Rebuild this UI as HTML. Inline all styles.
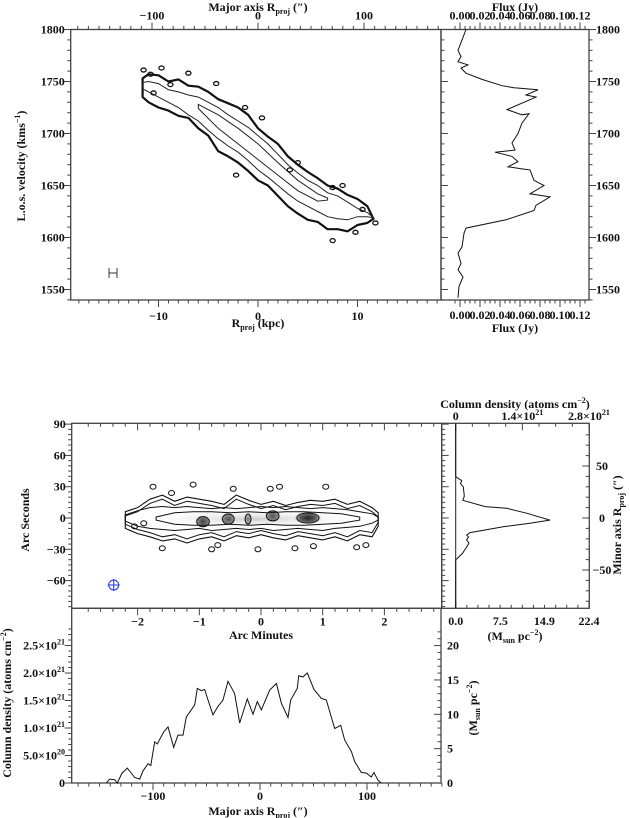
<!DOCTYPE html>
<html><head><meta charset="utf-8"><style>
html,body{margin:0;padding:0;background:#fff}
svg{display:block}
text{font-family:"Liberation Serif",serif;font-weight:bold;font-size:12px;fill:#111}
</style></head><body>
<svg id="fig" width="630" height="818" viewBox="0 0 630 818" xmlns="http://www.w3.org/2000/svg">
<defs>
<radialGradient id="g1"><stop offset="0" stop-color="#222"/><stop offset="0.6" stop-color="#666"/><stop offset="1" stop-color="#fff" stop-opacity="0"/></radialGradient>
<radialGradient id="g2"><stop offset="0" stop-color="#ccc"/><stop offset="1" stop-color="#fff" stop-opacity="0"/></radialGradient>
</defs>
<g id="layer"></g>
</svg>
<script>
// ---------- data ----------
const specVel = [1800,1790,1780,1774,1769,1766,1763,1758,1752,1746,1744,1742,1737,1735,1723,1718,1719,1710,1700,1691,1684,1682,1678,1673,1668,1666,1665,1655,1650,1642,1639,1631,1626,1617,1609,1604,1591,1585,1575,1569,1562,1553,1542];
const specFlux = [0.006,0.002,-0.002,0.001,-0.002,0.008,0.001,0.006,0.022,0.042,0.054,0.078,0.066,0.076,0.047,0.062,0.069,0.062,0.058,0.052,0.055,0.035,0.052,0.058,0.048,0.062,0.070,0.074,0.084,0.070,0.090,0.076,0.074,0.046,0.006,0.004,0.002,-0.002,0.001,-0.002,0.003,-0.001,-0.002];
const pvK = [-11.6,-11,-10,-9,-8,-7,-6,-5,-4,-3,-2,-1,0,1,2,3,4,5,6,7,8,9,10,11,11.6];
const pvOutHi = [1753,1757,1756,1750,1752,1746,1745,1740,1733,1729,1725,1718,1705,1697,1690,1678,1670,1663,1657,1650,1647,1641,1637,1630,1618];
const pvOutLo = [1735,1730,1725,1722,1717,1715,1705,1698,1683,1678,1672,1664,1655,1650,1640,1630,1623,1617,1615,1608,1608,1606,1612,1614,1618];
const pvMidHi = [1749,1750,1748,1742,1740,1737,1735,1730,1725,1718,1712,1706,1698,1690,1680,1670,1662,1655,1650,1643,1640,1634,1628,1624,1619];
const pvMidLo = [1743,1740,1735,1730,1725,1718,1712,1703,1695,1688,1682,1674,1665,1658,1650,1642,1635,1630,1625,1620,1618,1617,1620,1620,1619];
const pvInK = [-6,-4,-2,0,2,4,6,7];
const pvInHi = [1728,1718,1705,1690,1672,1655,1642,1638];
const pvInLo = [1724,1705,1690,1675,1660,1645,1635,1636];
const pvBlobK = [-11.5,-10.8,-9.7,-7,-4.2,-1.3,0.4,4,7.5,8.5,10.5,11.8,9.8,7.5,-2.2,3.2,-8.8,-10.5];
const pvBlobV = [1761,1757,1763,1758,1748,1725,1715,1672,1648,1650,1627,1614,1605,1597,1660,1665,1747,1739];
const mapX = [-2.2,-2,-1.8,-1.6,-1.4,-1.2,-1,-0.8,-0.6,-0.4,-0.2,0,0.2,0.4,0.6,0.8,1,1.2,1.4,1.6,1.8,1.9];
const mapOutHi = [6,10,18,22,16,20,18,16,13,22,17,13,16,12,15,17,16,18,13,16,10,5];
const mapOutLo = [-10,-15,-18,-22,-20,-24,-20,-18,-22,-17,-19,-16,-19,-21,-17,-19,-21,-18,-22,-16,-18,-8];
const mapMidHi = [3,7,10,11,10,11,10,9,10,9,10,11,10,11,10,9,10,9,8,6,4,1];
const mapMidLo = [-3,-8,-10,-11,-12,-11,-10,-12,-11,-10,-11,-10,-12,-11,-10,-11,-12,-10,-9,-8,-5,-2];
const mapInX = [-1.7,-1.4,-1.1,-0.8,-0.5,-0.2,0.1,0.4,0.7,1,1.3,1.6];
const mapInHi = [1,5,6,6,5,6,5,6,6,5,4,1];
const mapInLo = [-2,-6,-7,-7,-6,-7,-6,-7,-7,-6,-5,-2];
const clumpX = [-0.94,-0.53,-0.21,0.19,0.76];
const clumpY = [-3.5,-1,-1,2,0];
const clumpW = [0.17,0.16,0.08,0.17,0.3];
const clumpDark = [0.85,0.75,0.5,0.75,1];
const isoX = [-2.05,-1.75,-1.45,-1.1,-0.8,-0.05,0.55,1.05,1.7,-1.9,-0.45,0.3,0.85,1.55,-1.6,-0.7,0.15];
const isoY = [-8,30,24,32,-30,-30,-29,30,-26,-5,28,30,-27,-28,-29,-26,28];
const minorS = [90,40,39,36,33,30,21,17,11,9.3,4.5,-2,-5,-8.5,-14,-16.5,-18.5,-21,-24,-28,-34,-39,-40,-87];
const minorD = [0,0,0.02,0.126,0.10,0.16,0.18,0.15,0.62,1.07,1.50,1.98,1.56,1.0,0.30,0.23,0.27,0.23,0.28,0.23,0.14,0.03,0,0];
const majA = [-143.6,-140.5,-135.8,-133.4,-129,-124,-117.1,-112.4,-109.3,-104.7,-102.1,-98.4,-96,-90,-86,-80.7,-76.6,-72,-68.9,-61,-58.6,-54.9,-51.7,-48.6,-43.9,-39.3,-34.6,-29.9,-23.7,-19,-11.9,-6.5,-2.5,1.2,9.1,15.3,20,26.2,28.7,34.9,36.2,40.2,44.2,50.5,57.3,62,69.8,75.4,79.2,85.4,88.5,94.7,99.4,104,106.5,110.3,113.4];
const majD = [0,0.07,0.06,0,0.18,0.27,0.10,0.07,0.22,0.35,0.32,0.75,0.71,0.93,1.02,0.65,0.87,0.87,1.20,1.42,1.72,1.68,1.70,1.51,1.24,1.39,1.51,1.85,1.63,1.09,1.53,1.25,1.48,1.33,1.69,1.81,1.45,1.19,1.51,1.72,1.95,1.93,2.0,1.70,1.54,1.51,0.99,1.05,0.78,0.57,0.39,0.19,0.18,0.11,0.19,0.05,0];

// ---------- scales ----------
const kx = k => 258 + k*9.95;
const vy = v => 29.5 + (1800 - v)*1.04;
const fx = f => 460 + f*1000;
const ax1 = a => 258 + a*1.06;
const mx = m => 261 + m*61.7;
const my = s => 518 - s*1.043;
const ry = s => 518 - s*1.04;
const cdx = d => 455.7 + d*47.6;
const msx = m => 455.7 + m*5.95;
const bx = a => 260 + a*1.07;
const by = d => 783 - d*55;
const bmy = m => 783 - m*6.87;

const NS='http://www.w3.org/2000/svg';
const L=document.getElementById('layer');
function mk(tag, at, parent){const e=document.createElementNS(NS,tag);for(const k in at)e.setAttribute(k,at[k]);(parent||L).appendChild(e);return e;}
function txt(x,y,s,anchor,parent){const t=mk('text',{x:x,y:y,'text-anchor':anchor||'middle'},parent);t.innerHTML=s;return t;}

const frames=[[70.7,29.5,441,300,'pv-panel-frame'],[441,29.5,589,300,'spectrum-panel-frame'],[71.7,423.3,441.7,608.3,'map-panel-frame'],[441.7,423.3,589.3,608.3,'minor-profile-frame'],[71.7,608.3,441,783,'major-profile-frame']];
for(const f of frames){
 const r=mk('rect',{x:f[0],y:f[1],width:f[2]-f[0],height:f[3]-f[1],fill:'none',stroke:'#444','stroke-width':1.3});
 
 
}

function ticks(name, orient, pos, from, to, step, majStep, scale, dir, labelFn, lblOff){
 const g=mk('g',{});
 
 
 const n=Math.round((to-from)/step);
 for(let i=0;i<=n;i++){
  const v=Math.round((from+i*step)*1e6)/1e6;
  const isMaj=Math.abs(v/majStep-Math.round(v/majStep))<1e-6;
  const len=isMaj?7:3.5;
  const p=scale(v);
  if(orient==='x') mk('line',{x1:p,x2:p,y1:pos,y2:pos+dir*len,stroke:'#444','stroke-width':1},g);
  else mk('line',{y1:p,y2:p,x1:pos,x2:pos+dir*len,stroke:'#444','stroke-width':1},g);
  if(isMaj && labelFn){
   const s=labelFn(v); if(s===null) continue;
   if(orient==='x') txt(p,pos+lblOff,s,'middle',g);
   else txt(pos+lblOff,p+4,s,lblOff<0?'end':'start',g);
  }
 }
}
const neg=v=>{const r=Math.round(v*1000)/1000;return r<0?'\u2212'+(-r):''+r;};
ticks('velocity-axis','y',70.7,1540,1800,10,50,vy,-1,v=>v%50===0&&v>=1550?''+v:null,-6);
ticks('kpc-axis','x',300,-18,18,1,10,kx,1,neg,20);
ticks('arcsec-top-axis','x',29.5,-170,170,10,100,ax1,-1,neg,-10);
ticks('spectrum-left-ticks','y',441,1540,1800,10,50,vy,1,null,0);
ticks('spectrum-right-axis','y',589,1540,1800,10,50,vy,1,v=>v>=1550?''+v:null,7);
ticks('flux-top-axis','x',29.5,-0.005,0.125,0.005,0.02,fx,-1,v=>v.toFixed(2),-10);
ticks('flux-bottom-axis','x',300,-0.005,0.125,0.005,0.02,fx,1,v=>v.toFixed(2),19);
ticks('arcsec-axis','y',71.7,-85,90,5,30,my,-1,neg,-6);
ticks('arcmin-top-ticks','x',423.3,-2.8,2.8,0.2,1,mx,1,null,0);
ticks('arcmin-axis','x',608.3,-2.8,2.8,0.2,1,mx,1,neg,17);
ticks('minor-left-ticks','y',441.7,-85,90,5,30,my,1,null,0);
ticks('minor-axis','y',589.3,-80,80,10,50,ry,-1,null,0);
ticks('coldens-top-axis','x',423.3,0,2.8,0.35,1.4,cdx,1,null,0);
ticks('msun-bottom-axis','x',608.3,0,22.4,22.4/12,22.4,msx,-1,null,0);
ticks('coldens-axis','y',71.7,0,2.8,0.1,0.5,by,-1,null,0);
ticks('msun-axis','y',441,0,22,1,5,bmy,-1,v=>''+v,6);
ticks('major-axis','x',783,-170,170,10,100,bx,1,neg,17);

const minl=[[50,'50'],[0,'0'],[-50,'\u221250']];
for(const c of minl){const t=txt(602,ry(c[0])+4,c[1]);t.setAttribute('font-size','11');}

const lab=[
 [258,11,'Major axis R<tspan font-size="8" dy="3">proj</tspan><tspan dy="-3"> (\u2033)</tspan>','top-axis-title'],
 [258,327,'R<tspan font-size="8" dy="3">proj</tspan><tspan dy="-3"> (kpc)</tspan>','x-axis-title'],
 [515,11,'Flux (Jy)','flux-top-title'],
 [515,332,'Flux (Jy)','flux-bottom-title'],
 [515,408,'Column density (atoms cm<tspan font-size="8" dy="-5">\u22122</tspan><tspan dy="5">)</tspan>','coldens-top-title'],
 [261,639,'Arc Minutes','arcmin-title'],
 [515,640,'(M<tspan font-size="8" dy="3">sun</tspan><tspan dy="-3"> pc</tspan><tspan font-size="8" dy="-5">\u22122</tspan><tspan dy="5">)</tspan>','msun-bottom-title'],
 [258,815,'Major axis R<tspan font-size="8" dy="3">proj</tspan><tspan dy="-3"> (\u2033)</tspan>','major-axis-title']
];
for(const l of lab){const t=txt(l[0],l[1],l[2]);}
const cdl=[[0,'0'],[1.4,'1.4\u00d710<tspan font-size="8" dy="-5">21</tspan>'],[2.8,'2.8\u00d710<tspan font-size="8" dy="-5">21</tspan>']];
for(const c of cdl){const t=txt(cdx(c[0]),420,c[1]);}
const msl=[[0,'0.0'],[7.5,'7.5'],[14.9,'14.9'],[22.4,'22.4']];
for(const c of msl){const t=txt(msx(c[0]),625,c[1]);}
const cdy=[[0,'0'],[0.5,'5.0\u00d710<tspan font-size="8" dy="-5">20</tspan>'],[1,'1.0\u00d710<tspan font-size="8" dy="-5">21</tspan>'],[1.5,'1.5\u00d710<tspan font-size="8" dy="-5">21</tspan>'],[2,'2.0\u00d710<tspan font-size="8" dy="-5">21</tspan>'],[2.5,'2.5\u00d710<tspan font-size="8" dy="-5">21</tspan>']];
for(const c of cdy){const t=txt(65,by(c[0])+4,c[1],'end');}
const rot=[
 [25,166,'L.o.s. velocity (kms<tspan font-size="8" dy="-5">\u22121</tspan><tspan dy="5">)</tspan>','y-axis-title'],
 [29,520,'Arc Seconds','arcsec-title'],
 [621,525,'Minor axis R<tspan font-size="8" dy="3">proj</tspan><tspan dy="-3"> (\u2033)</tspan>','minor-axis-title'],
 [11,703,'Column density (atoms cm<tspan font-size="8" dy="-5">\u22122</tspan><tspan dy="5">)</tspan>','coldens-title'],
 [477,708,'(M<tspan font-size="8" dy="3">sun</tspan><tspan dy="-3"> pc</tspan><tspan font-size="8" dy="-5">\u22122</tspan><tspan dy="5">)</tspan>','msun-title']
];
for(const r of rot){const t=txt(0,0,r[2]);t.setAttribute('transform','translate('+r[0]+','+r[1]+') rotate(-90)');}

// ---------- top: PV contours ----------
function band(xs,hi,lo,fx_,fy_){let d='M';for(let i=0;i<xs.length;i++)d+=fx_(xs[i]).toFixed(1)+','+fy_(hi[i]).toFixed(1)+' L';for(let i=xs.length-1;i>=0;i--)d+=fx_(xs[i]).toFixed(1)+','+fy_(lo[i]).toFixed(1)+(i?' L':' Z');return d;}
const pvO=mk('path',{d:band(pvK,pvOutHi,pvOutLo,kx,vy),fill:'none',stroke:'#111','stroke-width':2.2,'stroke-linejoin':'round'});


const pvM=mk('path',{d:band(pvK,pvMidHi,pvMidLo,kx,vy),fill:'none',stroke:'#222','stroke-width':1});


const pvI=mk('path',{d:band(pvInK,pvInHi,pvInLo,kx,vy),fill:'none',stroke:'#222','stroke-width':1});


for(let i=0;i<pvBlobK.length;i++){
 const e=mk('ellipse',{cx:kx(pvBlobK[i]),cy:vy(pvBlobV[i]),rx:2.6,ry:2,fill:'none',stroke:'#111','stroke-width':1.3});
 
 
}
const eb=mk('path',{d:'M109,268 v10 M117,268 v10 M109,273 H117',stroke:'#333','stroke-width':1,fill:'none'});



let sd='';for(let i=0;i<specVel.length;i++)sd+=(i?'L':'M')+fx(specFlux[i]).toFixed(1)+','+vy(specVel[i]).toFixed(1);
const sp=mk('path',{d:sd,fill:'none',stroke:'#111','stroke-width':1});



// ---------- middle: moment map ----------
const env=mk('ellipse',{cx:mx(-0.1),cy:my(-1),rx:120,ry:10,fill:'url(#g2)'});


for(let i=0;i<clumpX.length;i++){
 const c=mk('ellipse',{cx:mx(clumpX[i]),cy:my(clumpY[i]),rx:clumpW[i]*61.7*0.8,ry:7,fill:'url(#g1)',opacity:clumpDark[i]});
 
 
 const cc=mk('ellipse',{cx:mx(clumpX[i]),cy:my(clumpY[i]),rx:clumpW[i]*61.7*0.6,ry:5,fill:'none',stroke:'#111','stroke-width':1});
 
 
}
const mo=mk('path',{d:band(mapX,mapOutHi,mapOutLo,mx,my),fill:'none',stroke:'#111','stroke-width':1.1,'stroke-linejoin':'round'});


const mo2=mk('path',{d:band(mapX,mapOutHi.map(v=>v-4),mapOutLo.map(v=>v+4),mx,my),fill:'none',stroke:'#111','stroke-width':1});


const mm=mk('path',{d:band(mapX,mapMidHi,mapMidLo,mx,my),fill:'none',stroke:'#111','stroke-width':1});


const mi=mk('path',{d:band(mapInX,mapInHi,mapInLo,mx,my),fill:'none',stroke:'#111','stroke-width':1});


for(let i=0;i<isoX.length;i++){
 const e=mk('ellipse',{cx:mx(isoX[i]),cy:my(isoY[i]),rx:3,ry:2.5,fill:'none',stroke:'#111','stroke-width':1});
 
 
}
const beam=mk('g',{stroke:'#2233ee','stroke-width':1,fill:'none'});


mk('circle',{cx:113.7,cy:585,r:5},beam);
mk('path',{d:'M107.7,585H119.7M113.7,579V591'},beam);

const zl=mk('line',{x1:cdx(0),x2:cdx(0),y1:423.3,y2:608.3,stroke:'#222','stroke-width':1});


let md='';for(let i=0;i<minorS.length;i++)md+=(i?'L':'M')+cdx(minorD[i]).toFixed(1)+','+ry(minorS[i]).toFixed(1);
const mp=mk('path',{d:md,fill:'none',stroke:'#111','stroke-width':1});



let bd='';for(let i=0;i<majA.length;i++)bd+=(i?'L':'M')+bx(majA[i]).toFixed(1)+','+by(majD[i]).toFixed(1);
const bp=mk('path',{d:bd,fill:'none',stroke:'#111','stroke-width':1});


</script>
</body></html>
